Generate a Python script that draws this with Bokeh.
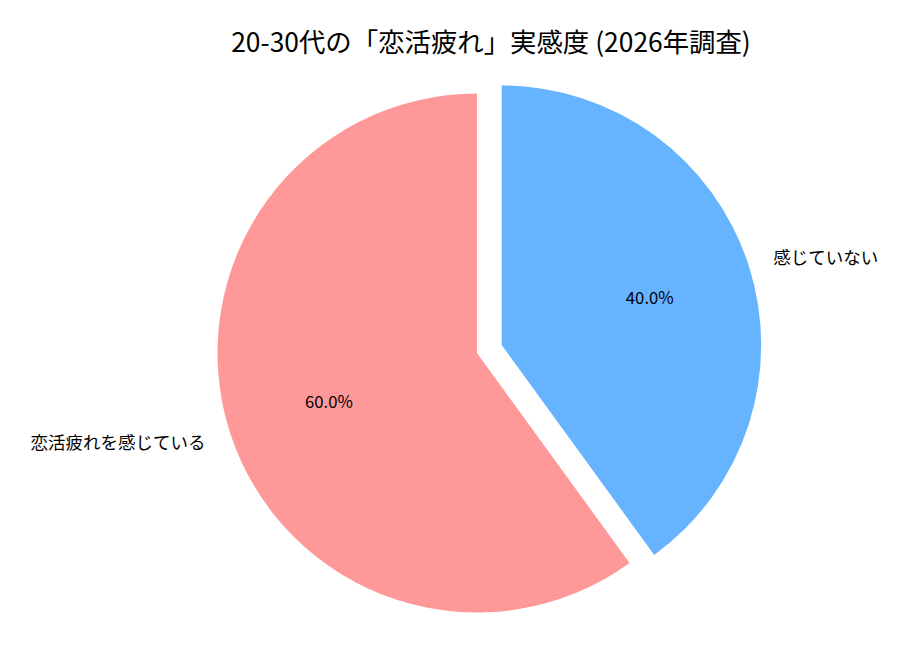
import numpy as np
from bokeh.plotting import figure
from bokeh.models import ColumnDataSource, Range1d
from bokeh.core.properties import value
from bokeh.embed import file_html
from bokeh.resources import INLINE

title_text = "20-30代の「恋活疲れ」実感度 (2026年調査)"
labels = ["恋活疲れを感じている", "感じていない"]
sizes = [60, 40]
colors = ["#ff9999", "#66b3ff"]
explode = [0.0, 0.1]
start_angle_deg = 90.0

FONT = "Noto Sans CJK JP"
R = 259.5  # pixels per unit radius

W, H = 890, 635
cx_px, cy_px = 476.5, 352.5  # pie centre within the frame (from left / top)

sizes_a = np.array(sizes, dtype=float)
frac = sizes_a / sizes_a.sum()
theta = np.deg2rad(360.0 * frac)
starts = np.deg2rad(start_angle_deg) + np.concatenate([[0.0], np.cumsum(theta)[:-1]])
ends = starts + theta
mids = (starts + ends) / 2.0
ex = np.array(explode)
cxs = ex * np.cos(mids)
cys = ex * np.sin(mids)

src = ColumnDataSource(dict(x=cxs, y=cys, start=starts, end=ends, color=colors))

p = figure(width=W, height=H, output_backend="svg", toolbar_location=None,
           x_range=Range1d(-cx_px / R, (W - cx_px) / R),
           y_range=Range1d(-(H - cy_px) / R, cy_px / R),
           min_border=0, outline_line_color=None)
p.axis.visible = False
p.grid.visible = False
p.background_fill_color = "white"

p.wedge(x="x", y="y", radius=1.0, start_angle="start", end_angle="end",
        direction="anticlock", fill_color="color", line_color=None, source=src)

# outer labels
lx = cxs + 1.1 * np.cos(mids)
ly = cys + 1.1 * np.sin(mids)
align = ["right" if c < 0 else "left" for c in np.cos(mids)]
lab_src = ColumnDataSource(dict(x=lx, y=ly, text=labels, align=align))
p.text(x="x", y="y", text="text", text_align="align", text_baseline="middle",
       text_font=value(FONT), text_font_size="17.5px", text_color="#000000",
       source=lab_src)

# percentage labels
px = cxs + 0.6 * np.cos(mids)
py = cys + 0.6 * np.sin(mids)
pct = [f"{100*f:.1f}%" for f in frac]
pct_src = ColumnDataSource(dict(x=px, y=py, text=pct))
p.text(x="x", y="y", text="text", text_align="center", text_baseline="middle",
       text_font=value(FONT), text_font_size="16.7px", text_color="#000000",
       source=pct_src)

# title
p.text(x=[(490.5 - cx_px) / R], y=[(cy_px - 40) / R], text=[title_text],
       text_align="center", text_baseline="middle",
       text_font=value(FONT), text_font_size="26.4px", text_color="#000000")

open("out.html", "w").write(file_html(p, INLINE))
